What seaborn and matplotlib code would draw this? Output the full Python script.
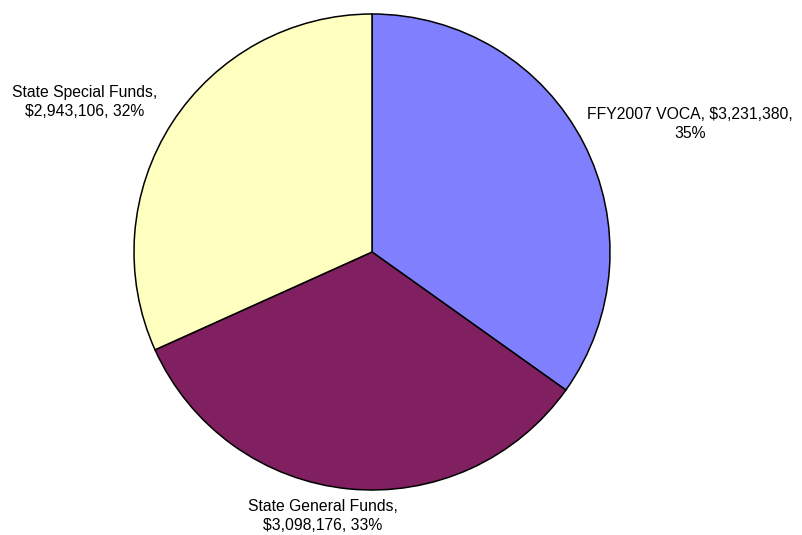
import matplotlib
matplotlib.use("Agg")
import matplotlib.pyplot as plt
import seaborn as sns

# Funding sources and amounts (dollars)
sources = ["FFY2007 VOCA", "State General Funds", "State Special Funds"]
amounts = [3231380, 3098176, 2943106]
colors = ["#8080FF", "#802060", "#FFFFC0"]

sns.set_theme(style="white")
plt.rcParams["font.family"] = ["Liberation Sans", "DejaVu Sans"]

W, H = 803, 535
fig = plt.figure(figsize=(W / 100, H / 100), dpi=100)
fig.patch.set_facecolor("white")

cx, cy, r = 372, 252, 238
ax = fig.add_axes([(cx - r) / W, (H - cy - r) / H, 2 * r / W, 2 * r / H])
ax.pie(amounts, colors=colors, startangle=90, counterclock=False, radius=1,
       wedgeprops=dict(edgecolor="black", linewidth=1.1))
ax.set_xlim(-1, 1)
ax.set_ylim(-1, 1)
ax.set_aspect("equal")
ax.axis("off")

total = sum(amounts)
labels = []
for s, a in zip(sources, amounts):
    pct = round(100 * a / total)
    labels.append((s, f"${a:,}", f"{pct}%"))

# label text and placement in pixels (x center, y center of block)
label_text = {
    0: f"{labels[0][0]}, {labels[0][1]},\n{labels[0][2]}",
    1: f"{labels[1][0]},\n{labels[1][1]}, {labels[1][2]}",
    2: f"{labels[2][0]},\n{labels[2][1]}, {labels[2][2]}",
}
label_pos = {0: (690, 124), 1: (323, 516), 2: (85, 102)}
for i, txt in label_text.items():
    px, py = label_pos[i]
    fig.text(px / W, 1 - py / H, txt, ha="center", va="center",
             fontsize=11.3, color="black", linespacing=1.3)

fig.savefig("out.png", dpi=100)
